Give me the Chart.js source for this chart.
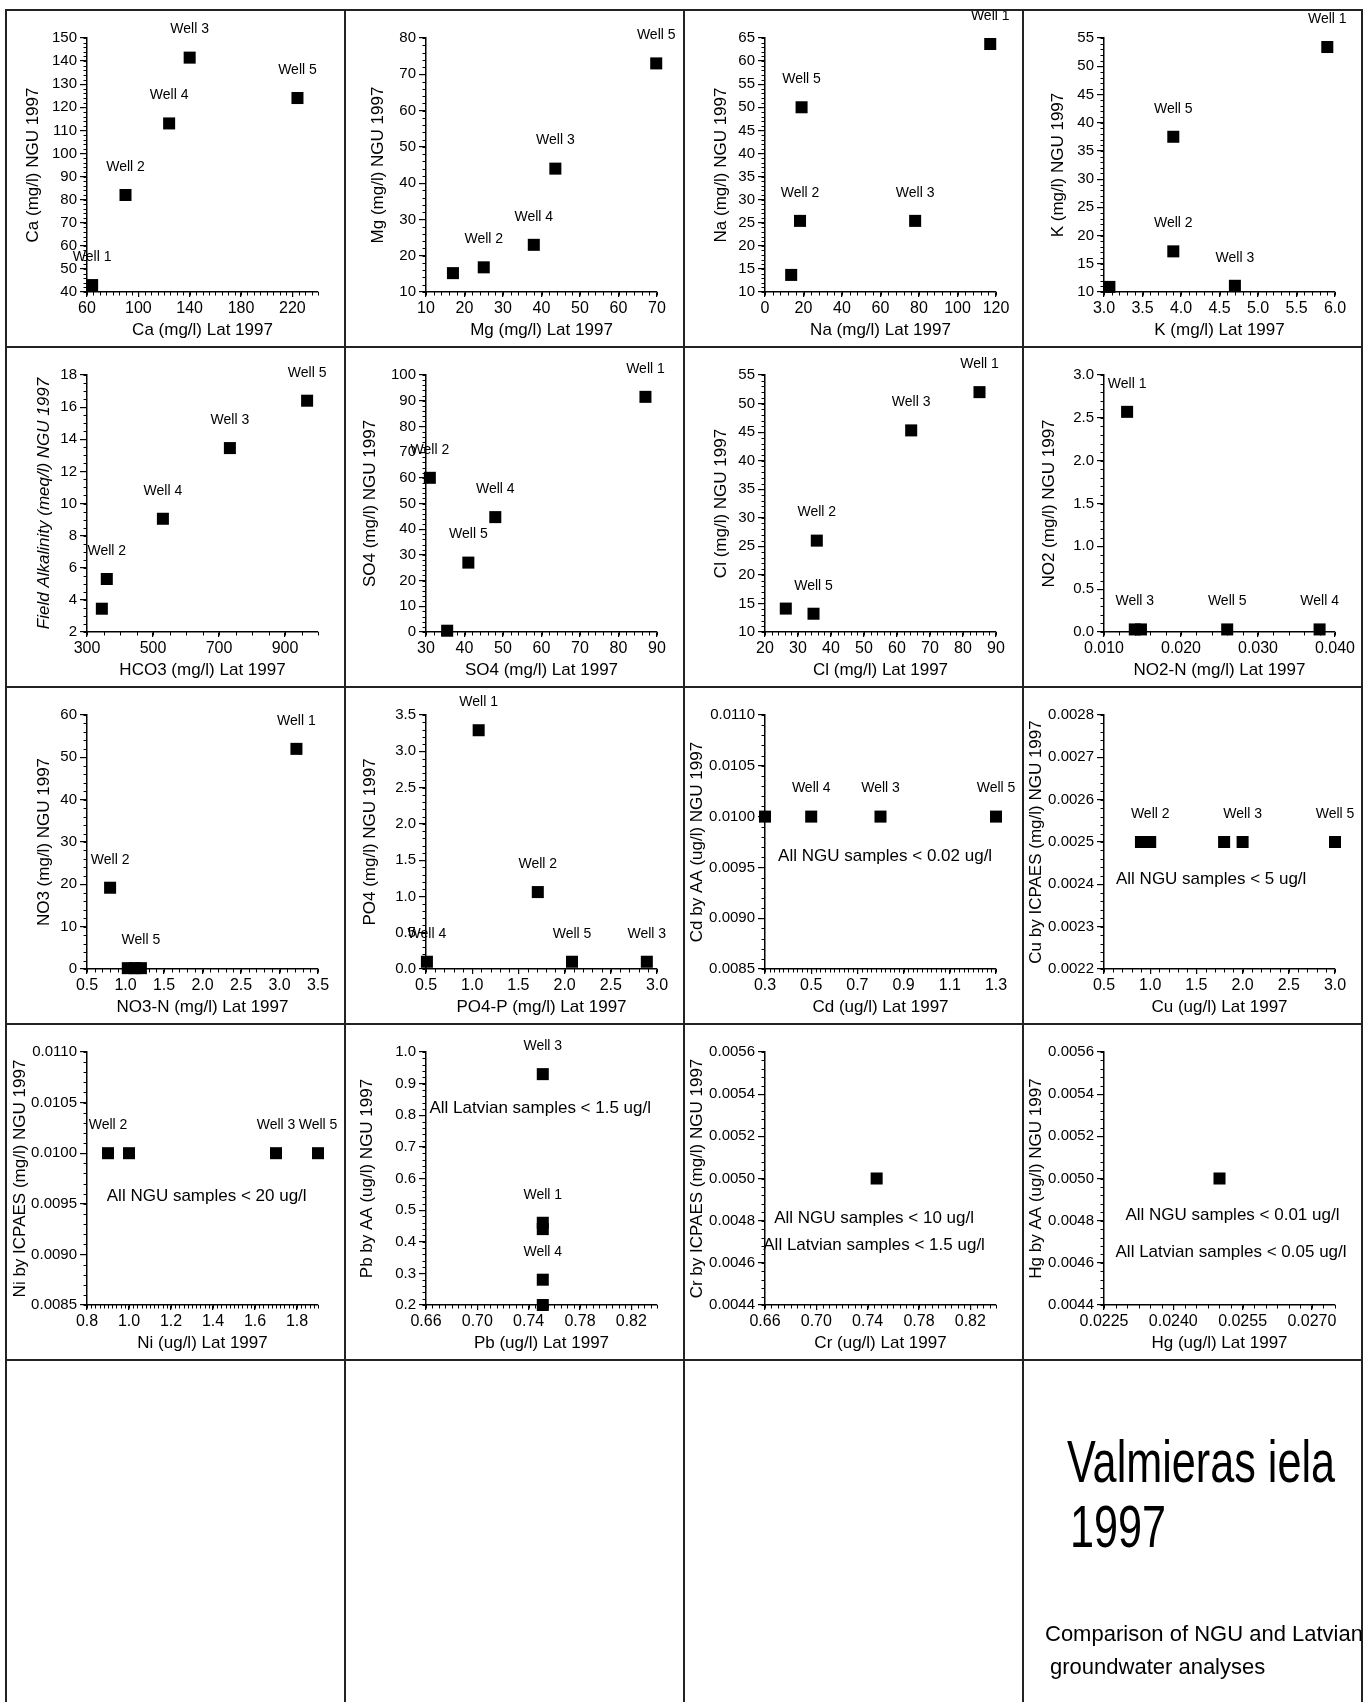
<!DOCTYPE html>
<html>
<head>
<meta charset="utf-8">
<script src="https://cdn.jsdelivr.net/npm/chart.js@4.4.1/dist/chart.umd.min.js"></script>
<style>
  body { margin: 0; background: #fff; }
  #page { position: relative; width: 1372px; height: 1702px; overflow: hidden; background: #fff; }
  #page canvas { position: absolute; }
  .ln { position: absolute; background: #222; }
  .txt { position: absolute; white-space: nowrap; font-family: 'Liberation Sans', Arial, sans-serif; color: #000; line-height: 1; transform-origin: left top; }
</style>
</head>
<body>
<div id="page"></div>
<script>
// ---- data: Latvian (x) vs NGU (y) values, one set per element ----
const caLat = [64, 90, 124, 140, 224];
const caNgu = [43, 82, 113, 141.5, 124];
const caWells = ['Well 1', 'Well 2', 'Well 4', 'Well 3', 'Well 5'];
const caXTicks = [60, 100, 140, 180, 220];
const caYTicks = [40, 50, 60, 70, 80, 90, 100, 110, 120, 130, 140, 150];

const mgLat = [17, 25, 38, 43.6, 69.8];
const mgNgu = [15.2, 16.8, 23, 44, 73];
const mgWells = ['', 'Well 2', 'Well 4', 'Well 3', 'Well 5'];
const mgXTicks = [10, 20, 30, 40, 50, 60, 70];
const mgYTicks = [10, 20, 30, 40, 50, 60, 70, 80];

const naLat = [13.6, 18.2, 19, 78, 117];
const naNgu = [13.7, 25.4, 50, 25.4, 63.7];
const naWells = ['', 'Well 2', 'Well 5', 'Well 3', 'Well 1'];
const naXTicks = [0, 20, 40, 60, 80, 100, 120];
const naYTicks = [10, 15, 20, 25, 30, 35, 40, 45, 50, 55, 60, 65];

const kLat = [3.07, 3.9, 3.9, 4.7, 5.9];
const kNgu = [10.9, 17.2, 37.5, 11.1, 53.4];
const kWells = ['', 'Well 2', 'Well 5', 'Well 3', 'Well 1'];
const kXTicks = [3.0, 3.5, 4.0, 4.5, 5.0, 5.5, 6.0];
const kYTicks = [10, 15, 20, 25, 30, 35, 40, 45, 50, 55];

const hco3Lat = [345, 360, 530, 733, 967];
const alkNgu = [3.45, 5.3, 9.05, 13.45, 16.4];
const alkWells = ['', 'Well 2', 'Well 4', 'Well 3', 'Well 5'];
const alkXTicks = [300, 500, 700, 900];
const alkYTicks = [2, 4, 6, 8, 10, 12, 14, 16, 18];

const so4Lat = [31, 35.5, 41, 48, 87];
const so4Ngu = [60, 0.5, 27, 44.7, 91.5];
const so4Wells = ['Well 2', '', 'Well 5', 'Well 4', 'Well 1'];
const so4XTicks = [30, 40, 50, 60, 70, 80, 90];
const so4YTicks = [0, 10, 20, 30, 40, 50, 60, 70, 80, 90, 100];

const clLat = [26.3, 34.7, 35.7, 64.3, 85];
const clNgu = [14.1, 13.2, 26, 45.3, 52];
const clWells = ['', 'Well 5', 'Well 2', 'Well 3', 'Well 1'];
const clXTicks = [20, 30, 40, 50, 60, 70, 80, 90];
const clYTicks = [10, 15, 20, 25, 30, 35, 40, 45, 50, 55];

const no2Lat = [0.013, 0.014, 0.0148, 0.026, 0.038];
const no2Ngu = [2.57, 0.03, 0.03, 0.03, 0.03];
const no2Wells = ['Well 1', 'Well 3', '', 'Well 5', 'Well 4'];
const no2XTicks = [0.010, 0.020, 0.030, 0.040];
const no2YTicks = [0, 0.5, 1.0, 1.5, 2.0, 2.5, 3.0];

const no3Lat = [0.8, 1.03, 1.12, 1.2, 3.22];
const no3Ngu = [19.2, 0.2, 0.2, 0.2, 52];
const no3Wells = ['Well 2', '', '', 'Well 5', 'Well 1'];
const no3XTicks = [0.5, 1.0, 1.5, 2.0, 2.5, 3.0, 3.5];
const no3YTicks = [0, 10, 20, 30, 40, 50, 60];

const po4Lat = [0.51, 1.07, 1.71, 2.08, 2.89];
const po4Ngu = [0.1, 3.29, 1.06, 0.1, 0.1];
const po4Wells = ['Well 4', 'Well 1', 'Well 2', 'Well 5', 'Well 3'];
const po4XTicks = [0.5, 1.0, 1.5, 2.0, 2.5, 3.0];
const po4YTicks = [0, 0.5, 1.0, 1.5, 2.0, 2.5, 3.0, 3.5];

const cdLat = [0.3, 0.5, 0.8, 1.3];
const cdNgu = [0.0100, 0.0100, 0.0100, 0.0100];
const cdWells = ['', 'Well 4', 'Well 3', 'Well 5'];
const cdXTicks = [0.3, 0.5, 0.7, 0.9, 1.1, 1.3];
const cdYTicks = [0.0085, 0.0090, 0.0095, 0.0100, 0.0105, 0.0110];
const cdNotes = ['All NGU samples < 0.02 ug/l'];

const cuLat = [0.9, 1.0, 1.8, 2.0, 3.0];
const cuNgu = [0.0025, 0.0025, 0.0025, 0.0025, 0.0025];
const cuWells = ['', 'Well 2', '', 'Well 3', 'Well 5'];
const cuXTicks = [0.5, 1.0, 1.5, 2.0, 2.5, 3.0];
const cuYTicks = [0.0022, 0.0023, 0.0024, 0.0025, 0.0026, 0.0027, 0.0028];
const cuNotes = ['All NGU samples < 5 ug/l'];

const niLat = [0.9, 1.0, 1.7, 1.9];
const niNgu = [0.0100, 0.0100, 0.0100, 0.0100];
const niWells = ['Well 2', '', 'Well 3', 'Well 5'];
const niXTicks = [0.8, 1.0, 1.2, 1.4, 1.6, 1.8];
const niYTicks = [0.0085, 0.0090, 0.0095, 0.0100, 0.0105, 0.0110];
const niNotes = ['All NGU samples < 20 ug/l'];

const pbLat = [0.751, 0.751, 0.751, 0.751, 0.751];
const pbNgu = [0.93, 0.46, 0.44, 0.28, 0.2];
const pbWells = ['Well 3', 'Well 1', '', 'Well 4', ''];
const pbXTicks = [0.66, 0.70, 0.74, 0.78, 0.82];
const pbYTicks = [0.2, 0.3, 0.4, 0.5, 0.6, 0.7, 0.8, 0.9, 1.0];
const pbNotes = ['All Latvian samples < 1.5 ug/l'];

const crLat = [0.747];
const crNgu = [0.0050];
const crWells = [''];
const crXTicks = [0.66, 0.70, 0.74, 0.78, 0.82];
const crYTicks = [0.0044, 0.0046, 0.0048, 0.0050, 0.0052, 0.0054, 0.0056];
const crNotes = ['All NGU samples < 10 ug/l', 'All Latvian samples < 1.5 ug/l'];

const hgLat = [0.0250];
const hgNgu = [0.0050];
const hgWells = [''];
const hgXTicks = [0.0225, 0.0240, 0.0255, 0.0270];
const hgYTicks = [0.0044, 0.0046, 0.0048, 0.0050, 0.0052, 0.0054, 0.0056];
const hgNotes = ['All NGU samples < 0.01 ug/l', 'All Latvian samples < 0.05 ug/l'];

// ---- panel setup ----
const panels = [
  { x: caLat, y: caNgu, names: caWells, xt: caXTicks, yt: caYTicks, xr: [60, 240], yr: [40, 150], xd: 0, yd: 0, xm: 5, ym: 2,
    xTitle: 'Ca (mg/l) Lat 1997', yTitle: 'Ca (mg/l) NGU 1997', yPad: 17 },
  { x: mgLat, y: mgNgu, names: mgWells, xt: mgXTicks, yt: mgYTicks, xr: [10, 70], yr: [10, 80], xd: 0, yd: 0, xm: 2, ym: 2,
    xTitle: 'Mg (mg/l) Lat 1997', yTitle: 'Mg (mg/l) NGU 1997', yPad: 23 },
  { x: naLat, y: naNgu, names: naWells, xt: naXTicks, yt: naYTicks, xr: [0, 120], yr: [10, 65], xd: 0, yd: 0, xm: 4, ym: 1,
    xTitle: 'Na (mg/l) Lat 1997', yTitle: 'Na (mg/l) NGU 1997', yPad: 27 },
  { x: kLat, y: kNgu, names: kWells, xt: kXTicks, yt: kYTicks, xr: [3, 6], yr: [10, 55], xd: 1, yd: 0, xm: 0.1, ym: 1,
    xTitle: 'K (mg/l) Lat 1997', yTitle: 'K (mg/l) NGU 1997', yPad: 25 },
  { x: hco3Lat, y: alkNgu, names: alkWells, xt: alkXTicks, yt: alkYTicks, xr: [300, 1000], yr: [2, 18], xd: 0, yd: 0, xm: 50, ym: 0.5,
    xTitle: 'HCO3 (mg/l) Lat 1997', yTitle: 'Field Alkalinity (meq/l) NGU 1997', yPad: 28, yItalic: true },
  { x: so4Lat, y: so4Ngu, names: so4Wells, xt: so4XTicks, yt: so4YTicks, xr: [30, 90], yr: [0, 100], xd: 0, yd: 0, xm: 2, ym: 2,
    xTitle: 'SO4 (mg/l) Lat 1997', yTitle: 'SO4 (mg/l) NGU 1997', yPad: 15 },
  { x: clLat, y: clNgu, names: clWells, xt: clXTicks, yt: clYTicks, xr: [20, 90], yr: [10, 55], xd: 0, yd: 0, xm: 2, ym: 1,
    xTitle: 'Cl (mg/l) Lat 1997', yTitle: 'Cl (mg/l) NGU 1997', yPad: 27 },
  { x: no2Lat, y: no2Ngu, names: no2Wells, xt: no2XTicks, yt: no2YTicks, xr: [0.010, 0.040], yr: [0, 3], xd: 3, yd: 1, xm: 0.002, ym: 0.1,
    xTitle: 'NO2-N (mg/l) Lat 1997', yTitle: 'NO2 (mg/l) NGU 1997', yPad: 16 },
  { x: no3Lat, y: no3Ngu, names: no3Wells, xt: no3XTicks, yt: no3YTicks, xr: [0.5, 3.5], yr: [0, 60], xd: 1, yd: 0, xm: 0.1, ym: 2,
    xTitle: 'NO3-N (mg/l) Lat 1997', yTitle: 'NO3 (mg/l) NGU 1997', yPad: 28 },
  { x: po4Lat, y: po4Ngu, names: po4Wells, xt: po4XTicks, yt: po4YTicks, xr: [0.5, 3.0], yr: [0, 3.5], xd: 1, yd: 1, xm: 0.1, ym: 0.1,
    xTitle: 'PO4-P (mg/l) Lat 1997', yTitle: 'PO4 (mg/l) NGU 1997', yPad: 15 },
  { x: cdLat, y: cdNgu, names: cdWells, xt: cdXTicks, yt: cdYTicks, xr: [0.3, 1.3], yr: [0.0085, 0.0110], xd: 1, yd: 4, xm: 0.02, ym: 0.0001,
    xTitle: 'Cd (ug/l) Lat 1997', yTitle: 'Cd by AA (ug/l) NGU 1997', yPad: 3,
    notes: [{ text: cdNotes[0], x: 0.82, y: 0.00961 }] },
  { x: cuLat, y: cuNgu, names: cuWells, xt: cuXTicks, yt: cuYTicks, xr: [0.5, 3.0], yr: [0.0022, 0.0028], xd: 1, yd: 4, xm: 0.1, ym: 0.00002,
    xTitle: 'Cu (ug/l) Lat 1997', yTitle: 'Cu by ICPAES (mg/l) NGU 1997', yPad: 3,
    notes: [{ text: cuNotes[0], x: 1.66, y: 0.002412 }] },
  { x: niLat, y: niNgu, names: niWells, xt: niXTicks, yt: niYTicks, xr: [0.8, 1.9], yr: [0.0085, 0.0110], xd: 1, yd: 4, xm: 0.02, ym: 0.0001,
    xTitle: 'Ni (ug/l) Lat 1997', yTitle: 'Ni by ICPAES (mg/l) NGU 1997', yPad: 4,
    notes: [{ text: niNotes[0], x: 1.37, y: 0.009575 }] },
  { x: pbLat, y: pbNgu, names: pbWells, xt: pbXTicks, yt: pbYTicks, xr: [0.66, 0.84], yr: [0.2, 1.0], xd: 2, yd: 1, xm: 0.005, ym: 0.02,
    xTitle: 'Pb (ug/l) Lat 1997', yTitle: 'Pb by AA (ug/l) NGU 1997', yPad: 12,
    notes: [{ text: pbNotes[0], x: 0.749, y: 0.822 }] },
  { x: crLat, y: crNgu, names: crWells, xt: crXTicks, yt: crYTicks, xr: [0.66, 0.84], yr: [0.0044, 0.0056], xd: 2, yd: 4, xm: 0.005, ym: 0.00004,
    xTitle: 'Cr (ug/l) Lat 1997', yTitle: 'Cr by ICPAES (mg/l) NGU 1997', yPad: 3,
    notes: [{ text: crNotes[0], x: 0.745, y: 0.004809 }, { text: crNotes[1], x: 0.745, y: 0.004683 }] },
  { x: hgLat, y: hgNgu, names: hgWells, xt: hgXTicks, yt: hgYTicks, xr: [0.0225, 0.0275], yr: [0.0044, 0.0056], xd: 4, yd: 4, xm: 0.00025, ym: 0.00004,
    xTitle: 'Hg (ug/l) Lat 1997', yTitle: 'Hg by AA (ug/l) NGU 1997', yPad: 3,
    notes: [{ text: hgNotes[0], x: 0.02528, y: 0.004824 }, { text: hgNotes[1], x: 0.02525, y: 0.004652 }] }
];

const FONT = "'Liberation Sans', Arial, sans-serif";
const cols = [6, 345, 684, 1023, 1362];
const rows = [10, 347, 687, 1024, 1360, 1702];
const page = document.getElementById('page');

// short minor ticks between the labelled ones
const minorTicks = {
  id: 'minorTicks',
  afterDraw(chart, args, opts) {
    const ctx = chart.ctx, a = chart.chartArea;
    ctx.save();
    ctx.strokeStyle = '#000';
    ctx.lineWidth = 1;
    ['x', 'y'].forEach(id => {
      const sc = chart.scales[id], step = opts[id];
      const n = Math.round((sc.max - sc.min) / step);
      for (let i = 0; i <= n; i++) {
        const p = Math.round(sc.getPixelForValue(sc.min + i * step)) + 0.5;
        ctx.beginPath();
        if (id === 'x') { ctx.moveTo(p, a.bottom); ctx.lineTo(p, a.bottom + 3.5); }
        else { ctx.moveTo(a.left, p); ctx.lineTo(a.left - 3.5, p); }
        ctx.stroke();
      }
    });
    ctx.restore();
  }
};

// "Well n" text above each point
const wellLabels = {
  id: 'wellLabels',
  afterDatasetsDraw(chart, args, opts) {
    const ctx = chart.ctx;
    ctx.save();
    ctx.font = '14px ' + FONT;
    ctx.fillStyle = '#000';
    ctx.textAlign = 'center';
    ctx.textBaseline = 'middle';
    chart.getDatasetMeta(0).data.forEach((pt, i) => {
      if (opts.names[i]) ctx.fillText(opts.names[i], pt.x, pt.y - 28);
    });
    ctx.restore();
  }
};

// free text notes inside a panel
const notes = {
  id: 'notes',
  afterDraw(chart, args, opts) {
    const ctx = chart.ctx;
    ctx.save();
    ctx.font = '17px ' + FONT;
    ctx.fillStyle = '#000';
    ctx.textAlign = 'center';
    ctx.textBaseline = 'middle';
    (opts.items || []).forEach(n => {
      ctx.fillText(n.text, chart.scales.x.getPixelForValue(n.x), chart.scales.y.getPixelForValue(n.y));
    });
    ctx.restore();
  }
};

panels.forEach((p, i) => {
  const r = Math.floor(i / 4), c = i % 4;
  const w = cols[c + 1] - cols[c], h = rows[r + 1] - rows[r];
  const cv = document.createElement('canvas');
  cv.width = w; cv.height = h;
  cv.style.left = cols[c] + 'px';
  cv.style.top = rows[r] + 'px';
  cv.style.width = w + 'px';
  cv.style.height = h + 'px';
  page.appendChild(cv);

  const axisCommon = {
    type: 'linear',
    border: { display: true, color: '#000', width: 1.5 },
    grid: { display: true, drawOnChartArea: false, drawTicks: true, color: '#000', lineWidth: 1.2 }
  };

  new Chart(cv, {
    type: 'scatter',
    data: {
      datasets: [{
        data: p.x.map((v, k) => ({ x: v, y: p.y[k] })),
        pointStyle: 'rect',
        pointRadius: 8.5,
        pointHoverRadius: 8.5,
        backgroundColor: '#000',
        borderColor: '#000',
        borderWidth: 0,
        clip: false
      }]
    },
    options: {
      responsive: false,
      animation: false,
      events: [],
      layout: { autoPadding: false, padding: { left: 0, top: 28, right: w - 312, bottom: 0 } },
      plugins: {
        legend: { display: false },
        tooltip: { enabled: false },
        minorTicks: { x: p.xm, y: p.ym },
        wellLabels: { names: p.names },
        notes: { items: p.notes || [] }
      },
      scales: {
        x: Object.assign({}, axisCommon, {
          min: p.xr[0], max: p.xr[1],
          grid: Object.assign({}, axisCommon.grid, { tickLength: 5 }),
          afterBuildTicks: sc => { sc.ticks = p.xt.map(v => ({ value: v })); },
          afterFit: sc => { sc.height = 55; },
          ticks: { color: '#000', font: { family: FONT, size: 16 }, padding: 2, autoSkip: false, maxRotation: 0, minRotation: 0,
            callback: v => Number(v).toFixed(p.xd) },
          title: { display: true, text: p.xTitle, color: '#000', font: { family: FONT, size: 17 }, padding: { top: 0, bottom: 6 } }
        }),
        y: Object.assign({}, axisCommon, {
          min: p.yr[0], max: p.yr[1],
          grid: Object.assign({}, axisCommon.grid, { tickLength: 7 }),
          afterBuildTicks: sc => { sc.ticks = p.yt.map(v => ({ value: v })); },
          afterFit: sc => { sc.width = 81; },
          ticks: { color: '#000', font: { family: FONT, size: 15 }, padding: 3, autoSkip: false,
            callback: v => Number(v).toFixed(p.yd) },
          title: { display: true, text: p.yTitle, color: '#000',
            font: { family: FONT, size: 17, style: p.yItalic ? 'italic' : 'normal' }, padding: { top: p.yPad, bottom: 0 } }
        })
      }
    },
    plugins: [minorTicks, wellLabels, notes]
  });
});

// cell frame lines
cols.forEach(x => {
  const d = document.createElement('div');
  d.className = 'ln';
  d.style.cssText = `left:${x - 1}px;top:${rows[0] - 1}px;width:2px;height:${1702 - rows[0] + 1}px`;
  page.appendChild(d);
});
rows.slice(0, 5).forEach(y => {
  const d = document.createElement('div');
  d.className = 'ln';
  d.style.cssText = `left:${cols[0] - 1}px;top:${y - 1}px;width:${cols[4] - cols[0] + 2}px;height:2px`;
  page.appendChild(d);
});

// title block in the last cell
const titleLines = [
  { text: 'Valmieras iela', left: 1067, top: 1432, size: 60, sx: 0.72 },
  { text: '1997', left: 1070, top: 1497, size: 60, sx: 0.72 },
  { text: 'Comparison of NGU and Latvian', left: 1045, top: 1623, size: 22, sx: 1 },
  { text: 'groundwater analyses', left: 1050, top: 1656, size: 22, sx: 1 }
];
titleLines.forEach(t => {
  const d = document.createElement('div');
  d.className = 'txt';
  d.textContent = t.text;
  d.style.left = t.left + 'px';
  d.style.top = t.top + 'px';
  d.style.fontSize = t.size + 'px';
  d.style.transform = `scaleX(${t.sx})`;
  page.appendChild(d);
});
</script>
</body>
</html>
